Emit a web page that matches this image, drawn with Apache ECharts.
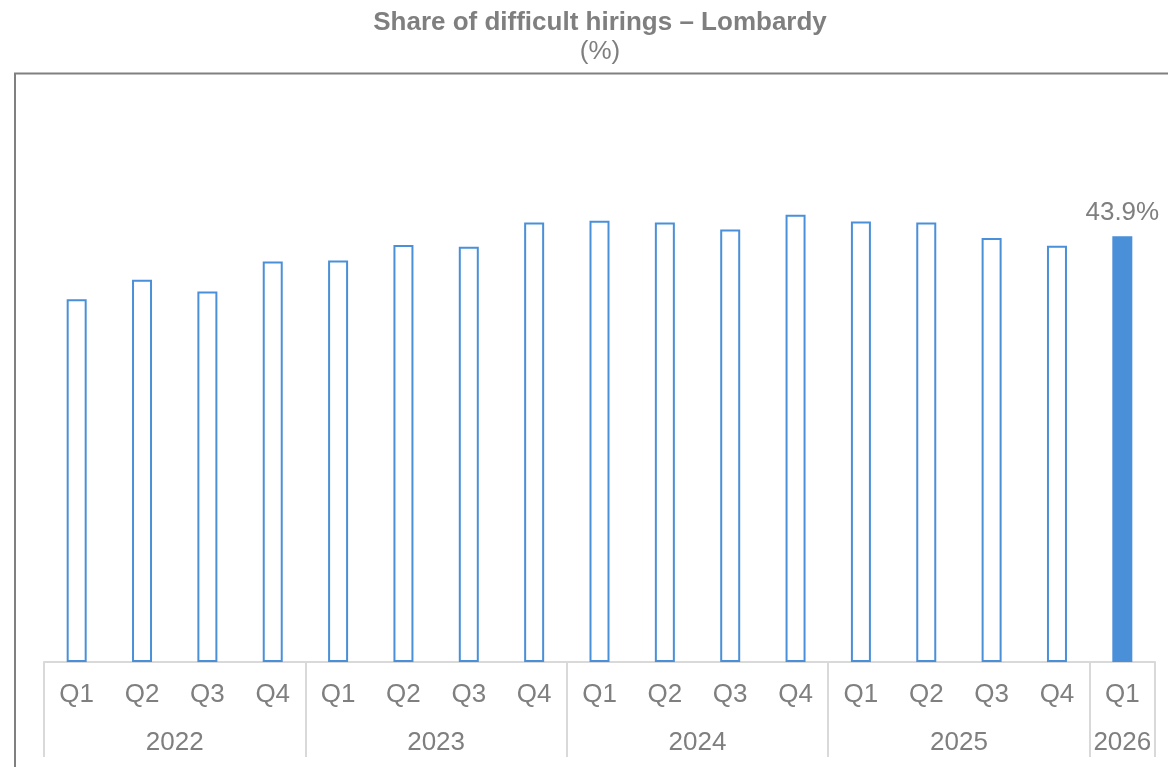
<!DOCTYPE html>
<html>
<head>
<meta charset="utf-8">
<title>Share of difficult hirings – Lombardy</title>
<script src="https://cdn.jsdelivr.net/npm/echarts@6/dist/echarts.min.js"></script>
<style>
  html, body { margin: 0; padding: 0; background: #ffffff; }
  #chart { width: 1168px; height: 767px; }
</style>
</head>
<body>
<div id="chart"></div>
<script>
// Quarter labels and the year each group of quarters belongs to
const years = ['2022', '2023', '2024', '2025', '2026'];
const quartersPerYear = [4, 4, 4, 4, 1];
const quarterNames = ['Q1', 'Q2', 'Q3', 'Q4'];

// Share of difficult hirings (%), one value per quarter
const shareValues = [
  37.4, 39.4, 38.2, 41.3,
  41.4, 43.0, 42.8, 45.3,
  45.5, 45.3, 44.6, 46.1,
  45.4, 45.3, 43.7, 42.9,
  43.9
];

const titleText = 'Share of difficult hirings – Lombardy';
const unitText = '(%)';

const TEXT_GREY = '#7f7f7f';
const BAR_BLUE = '#4a90d9';
const AXIS_GREY = '#d9d9d9';
const FONT = '"Liberation Sans", Arial, sans-serif';

// Quarter categories for the main axis
const quarterCats = [];
quartersPerYear.forEach(n => {
  for (let i = 0; i < n; i++) quarterCats.push(quarterNames[i]);
});

// Year axis: half-quarter points (boundaryGap off) so that group edges
// and group centres both fall on a point.
const totalQuarters = quarterCats.length;
const yearPoints = new Array(totalQuarters * 2 + 1).fill('');
const yearEdges = new Set([0]);
const yearCentres = new Set();
let acc = 0;
years.forEach((y, i) => {
  const start = acc * 2;
  const end = (acc + quartersPerYear[i]) * 2;
  const mid = (start + end) / 2;
  yearPoints[mid] = y;
  yearCentres.add(mid);
  yearEdges.add(end);
  acc += quartersPerYear[i];
});

const lastIndex = shareValues.length - 1;
const barData = shareValues.map((v, i) => {
  if (i === lastIndex) {
    return {
      value: v,
      itemStyle: { color: BAR_BLUE, borderColor: BAR_BLUE, borderWidth: 2 },
      label: {
        show: true,
        position: 'top',
        distance: 10,
        formatter: p => p.value.toFixed(1) + '%',
        color: TEXT_GREY,
        fontSize: 26,
        fontFamily: FONT
      }
    };
  }
  return v;
});

const chart = echarts.init(document.getElementById('chart'), null, { renderer: 'canvas' });

chart.setOption({
  animation: false,
  backgroundColor: '#ffffff',
  graphic: [
    // Chart heading and unit, centred over the frame
    {
      type: 'text',
      silent: true,
      x: 600,
      y: 23,
      style: {
        text: titleText,
        fill: TEXT_GREY,
        font: 'bold 26px ' + FONT,
        align: 'center',
        verticalAlign: 'middle'
      }
    },
    {
      type: 'text',
      silent: true,
      x: 600,
      y: 52,
      style: {
        text: unitText,
        fill: TEXT_GREY,
        font: '26px ' + FONT,
        align: 'center',
        verticalAlign: 'middle'
      }
    },
    // Frame along the left and top of the plot
    {
      type: 'polyline',
      silent: true,
      shape: { points: [[15, 767], [15, 73.5], [1168, 73.5]] },
      style: { stroke: '#808080', lineWidth: 2, fill: null }
    }
  ],
  grid: { left: 44, right: 13, top: 80, bottom: 105, containLabel: false },
  xAxis: [
    {
      type: 'category',
      data: quarterCats,
      position: 'bottom',
      boundaryGap: true,
      axisLine: { show: true, lineStyle: { color: AXIS_GREY, width: 2 } },
      axisTick: { show: false },
      axisLabel: {
        color: TEXT_GREY, fontSize: 26, fontFamily: FONT,
        margin: 20, interval: 0
      },
      splitLine: { show: false }
    },
    {
      type: 'category',
      data: yearPoints,
      position: 'bottom',
      boundaryGap: false,
      axisLine: { show: false },
      axisTick: {
        show: true,
        length: 95,
        interval: idx => yearEdges.has(idx),
        lineStyle: { color: AXIS_GREY, width: 2 }
      },
      axisLabel: {
        color: TEXT_GREY, fontSize: 26, fontFamily: FONT,
        margin: 68,
        interval: idx => yearCentres.has(idx)
      },
      splitLine: { show: false }
    }
  ],
  yAxis: {
    type: 'value',
    min: 0,
    max: 60,
    interval: 10,
    show: false,
    splitLine: { show: false }
  },
  series: [
    {
      type: 'bar',
      xAxisIndex: 0,
      data: barData,
      barWidth: 20,
      itemStyle: {
        color: '#ffffff',
        borderColor: BAR_BLUE,
        borderWidth: 2
      }
    }
  ]
});
</script>
</body>
</html>
